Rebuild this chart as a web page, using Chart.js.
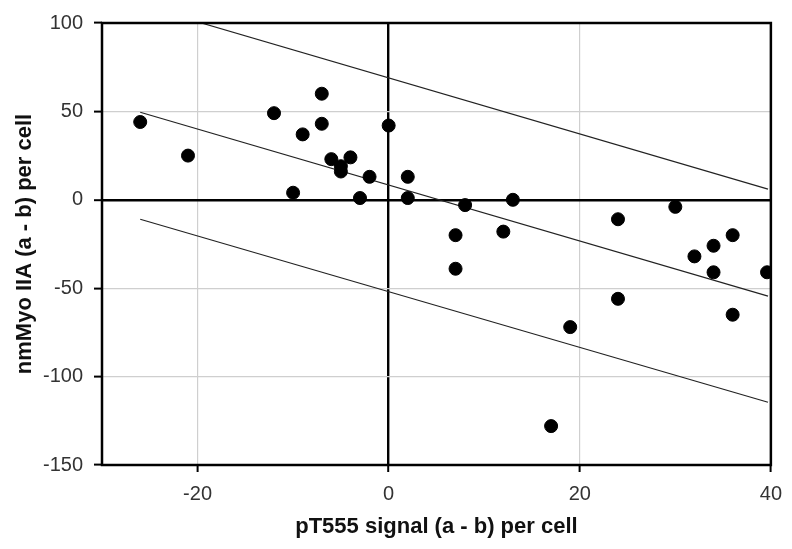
<!DOCTYPE html>
<html>
<head>
<meta charset="utf-8">
<script src="https://cdn.jsdelivr.net/npm/chart.js@4/dist/chart.umd.min.js"></script>
<style>
  html, body { margin: 0; padding: 0; background: #fff; }
  #wrap { width: 792px; height: 549px; }
</style>
</head>
<body>
<div id="wrap"><canvas id="chart" width="792" height="549"></canvas></div>
<script>
// measured cells: pT555 difference vs nmMyo IIA difference
var pT555 = [-26, -21, -12, -7, -7, -9, -6, -4, -5, -5, -2, -10, -3, 0,
  2, 2, 8, 13, 7, 12, 7, 24, 30, 36, 34, 32, 34, 39.6, 24, 19, 36, 17];
var myo = [44, 25, 49, 60, 43, 37, 23, 24, 19, 16, 13, 4, 1, 42,
  13, 1, -3, 0, -20, -18, -39, -11, -4, -20, -26, -32, -41, -41, -56, -72, -65, -128];

// regression line and the two bounds (end points)
var fitX = [-26, 39.7];
var fitY = [49.5, -54.5];
var upperX = [-19.6, 39.7];
var upperY = [100, 6];
var lowerX = [-26, 39.7];
var lowerY = [-11, -114.5];

var xTicks = [-20, 0, 20, 40];
var yTicks = [-150, -100, -50, 0, 50, 100];

var FONT = 'Liberation Sans, Arial, Helvetica, sans-serif';

function toPoints(xs, ys) {
  var out = [];
  for (var i = 0; i < xs.length; i++) {
    out.push({ x: xs[i], y: ys[i] });
  }
  return out;
}

function lineSet(xs, ys) {
  return {
    type: 'line',
    data: toPoints(xs, ys),
    borderColor: '#222',
    borderWidth: 1.2,
    pointRadius: 0,
    fill: false,
    tension: 0,
    order: 2
  };
}

var frame = {
  id: 'frame',
  afterDatasetsDraw: function (chart) {
    var a = chart.chartArea;
    var ctx = chart.ctx;
    ctx.save();
    ctx.strokeStyle = '#000';
    ctx.lineWidth = 2.5;
    ctx.strokeRect(a.left, a.top, a.right - a.left, a.bottom - a.top);
    ctx.restore();
  }
};

function gridColor(c) {
  return c.tick && c.tick.value === 0 ? '#000' : '#cfcfcf';
}
function gridWidth(c) {
  return c.tick && c.tick.value === 0 ? 2.4 : 1.2;
}

var ctx = document.getElementById('chart').getContext('2d');
new Chart(ctx, {
  type: 'scatter',
  data: {
    datasets: [
      {
        data: toPoints(pT555, myo),
        backgroundColor: '#000',
        borderColor: '#000',
        pointRadius: 6.5,
        pointHoverRadius: 6.5,
        order: 1
      },
      lineSet(fitX, fitY),
      lineSet(upperX, upperY),
      lineSet(lowerX, lowerY)
    ]
  },
  options: {
    responsive: false,
    animation: false,
    events: [],
    layout: { padding: { top: 18, right: 21, bottom: 0, left: 4 } },
    plugins: {
      legend: { display: false },
      tooltip: { enabled: false }
    },
    scales: {
      x: {
        type: 'linear',
        min: -30,
        max: 40,
        afterBuildTicks: function (s) {
          s.ticks = xTicks.map(function (v) { return { value: v }; });
        },
        afterFit: function (s) { s.height = 84; },
        grid: {
          color: gridColor,
          lineWidth: gridWidth,
          tickColor: '#000',
          tickLength: 7,
          tickWidth: 2
        },
        border: { display: false },
        ticks: {
          color: '#333',
          padding: 10,
          maxRotation: 0,
          font: { family: FONT, size: 20 }
        },
        title: {
          display: true,
          text: 'pT555 signal (a - b) per cell',
          color: '#111',
          padding: { top: 4, bottom: 9 },
          font: { family: FONT, size: 22, weight: 'bold' }
        }
      },
      y: {
        type: 'linear',
        min: -150,
        max: 100,
        afterBuildTicks: function (s) {
          s.ticks = yTicks.map(function (v) { return { value: v }; });
        },
        afterFit: function (s) { s.width = 98; },
        grid: {
          color: gridColor,
          lineWidth: gridWidth,
          tickColor: '#000',
          tickLength: 8,
          tickWidth: 2
        },
        border: { display: false },
        ticks: {
          color: '#333',
          padding: 11,
          font: { family: FONT, size: 20 }
        },
        title: {
          display: true,
          text: 'nmMyo IIA (a - b) per cell',
          color: '#111',
          padding: { top: 8, bottom: 0 },
          font: { family: FONT, size: 22, weight: 'bold' }
        }
      }
    }
  },
  plugins: [frame]
});
</script>
</body>
</html>
